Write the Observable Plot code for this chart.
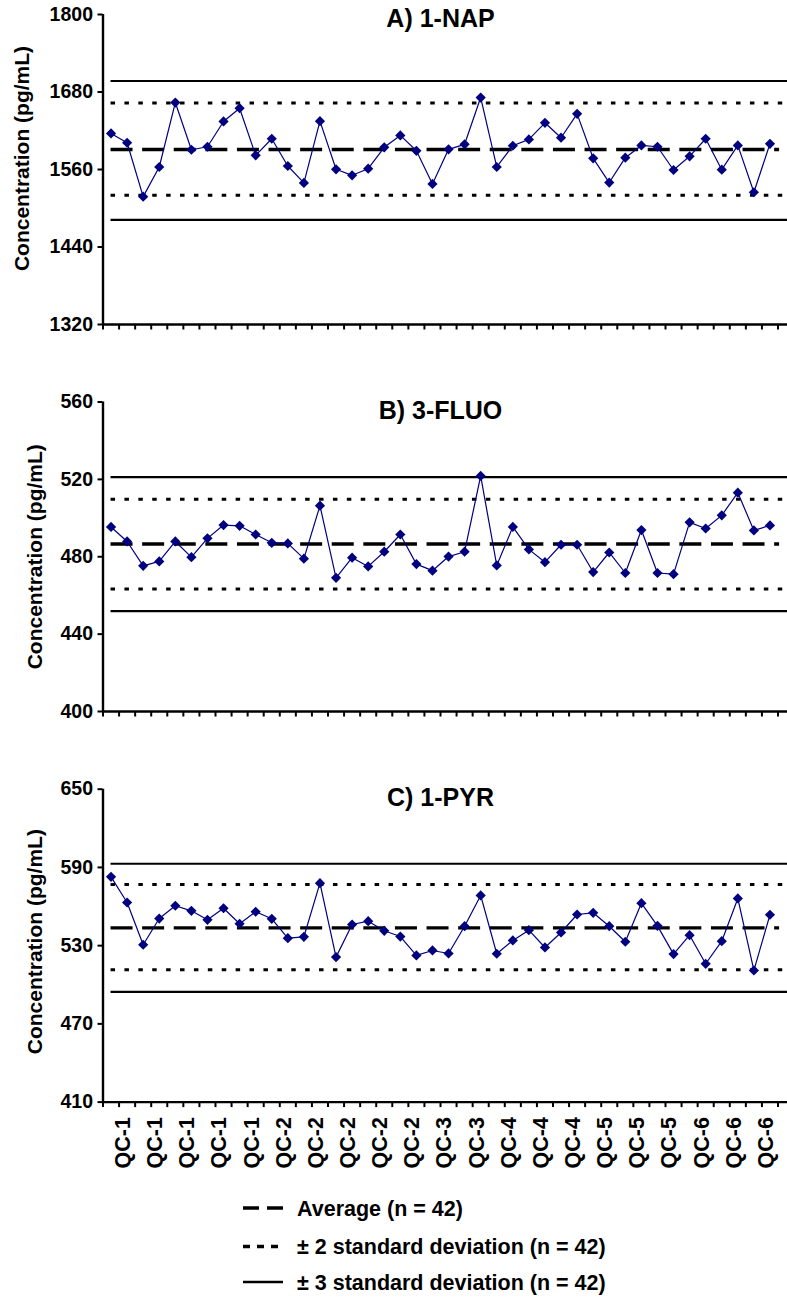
<!DOCTYPE html>
<html><head><meta charset="utf-8">
<script src="https://cdn.jsdelivr.net/npm/d3@7"></script>
<script src="https://cdn.jsdelivr.net/npm/@observablehq/plot@0.6"></script>
<style>
body{margin:0;background:#fff;}
#chart{width:787px;position:relative;}
#chart svg{display:block;}
</style></head><body><div id="chart"></div>
<script>
// ---- data ----
const runLabels = [
  "QC-1","QC-1","QC-1","QC-1","QC-1","QC-1","QC-1","QC-1","QC-1","QC-1",
  "QC-2","QC-2","QC-2","QC-2","QC-2","QC-2","QC-2","QC-2","QC-2","QC-2",
  "QC-3","QC-3","QC-3","QC-3",
  "QC-4","QC-4","QC-4","QC-4","QC-4","QC-4",
  "QC-5","QC-5","QC-5","QC-5","QC-5","QC-5",
  "QC-6","QC-6","QC-6","QC-6","QC-6","QC-6"
];
const labelEvery = 2;   // every 2nd run is labelled (runs 2, 4, ... 42)

const nap1 = [1615.8,1601.4,1518.0,1563.9,1663.7,1590.6,1595.2,1634.4,1654.9,1581.9,
  1607.6,1565.4,1539.2,1634.9,1560.3,1551.0,1561.2,1594.3,1612.8,1589.0,
  1537.6,1591.2,1599.0,1671.4,1563.9,1596.8,1606.6,1632.3,1609.2,1646.2,
  1577.3,1539.8,1578.3,1597.3,1595.2,1559.2,1580.4,1607.6,1559.7,1597.3,1524.8,1599.8];
const fluo3 = [495.4,487.9,475.3,477.6,487.9,479.8,489.5,496.4,496.0,491.5,
  487.2,486.9,479.0,506.4,469.1,479.5,475.0,482.6,491.5,476.2,
  472.8,480.1,482.6,521.8,475.5,495.4,483.8,477.2,486.2,486.2,
  472.1,482.2,471.6,493.8,471.6,471.0,497.8,494.6,501.4,513.1,493.6,496.2];
const pyr1 = [582.8,563.1,530.7,550.8,560.6,556.7,549.8,558.7,546.8,556.0,
  550.6,535.7,536.8,577.9,521.2,546.2,548.8,541.4,537.0,522.5,
  526.3,524.0,544.9,568.5,523.8,534.0,541.9,528.6,540.1,553.9,
  555.2,544.9,533.0,562.6,545.2,523.5,538.0,516.1,533.4,566.2,511.0,553.7];

const nap1Avg = 1591, nap1Sd2 = [1520, 1663], nap1Sd3 = [1482, 1697];
const fluo3Avg = 486.6, fluo3Sd2 = [463.3, 509.7], fluo3Sd3 = [451.9, 521.2];
const pyr1Avg = 543.7, pyr1Sd2 = [511.6, 576.9], pyr1Sd3 = [494.6, 592.8];

const nap1Ticks = [1320, 1440, 1560, 1680, 1800];
const fluo3Ticks = [400, 440, 480, 520, 560];
const pyr1Ticks = [410, 470, 530, 590, 650];

const panelTitles = ["A) 1-NAP", "B) 3-FLUO", "C) 1-PYR"];
const yTitle = "Concentration (pg/mL)";
const legendLabels = ["Average (n = 42)", "\u00b1 2 standard deviation (n = 42)", "\u00b1 3 standard deviation (n = 42)"];

// ---- drawing ----
const FONT = "'Liberation Sans', Arial, Helvetica, sans-serif";
const N = runLabels.length;

function panel(o) {
  const data = o.values.map((v, i) => ({i, v}));
  const ymin = o.ticks[0], ymax = o.ticks[o.ticks.length - 1];
  const xc = d => d.i + 0.5;
  const marks = [
    Plot.ruleY(o.sd3, {x1: 0.5, x2: N + 0.6, stroke: "#000", strokeWidth: 2.2}),
    Plot.ruleY(o.sd2, {x1: 0.5, x2: N + 0.3, stroke: "#000", strokeWidth: 3, strokeDasharray: "4.5 9.4"}),
    Plot.ruleY([o.avg], {x1: 0.5, x2: N + 0.1, stroke: "#000", strokeWidth: 3.3, strokeDasharray: "22 9.6"}),
    Plot.line(data, {x: xc, y: "v", stroke: "#000080", strokeWidth: 1.2}),
    Plot.dot(data, {x: xc, y: "v", symbol: "diamond2", fill: "#000080", r: 4.6}),
    Plot.axisY({ticks: o.ticks, tickSize: 5, tickPadding: 5, fontSize: 19.5, strokeWidth: 2, tickFormat: d => String(d), label: null}),
    Plot.axisX({ticks: d3.range(N + 1), tickSize: 5.5, strokeWidth: 2, tickFormat: () => "", label: null}),
    Plot.ruleX([0], {stroke: "#000", strokeWidth: 2.4}),
    Plot.ruleY([ymin], {x1: 0, x2: N + 0.6, stroke: "#000", strokeWidth: 2.4}),
    Plot.text([o.title], {frameAnchor: "top", lineAnchor: "middle", dy: o.titleDy, fontSize: 25, fontWeight: "bold"}),
    Plot.text([yTitle], {frameAnchor: "left", textAnchor: "middle", lineAnchor: "middle", rotate: -90,
      dx: o.ytDx, dy: o.ytDy, fontSize: 21, fontWeight: "bold"})
  ];
  if (o.showLabels) {
    const lt = d3.range(labelEvery - 1, N, labelEvery).map(i => i + 0.5);
    marks.push(Plot.axisX({ticks: lt, tickSize: 0, tickRotate: -90, tickPadding: 15, fontSize: 21.5, dx: -4,
      tickFormat: t => runLabels[Math.floor(t)], label: null}));
  }
  return Plot.plot({
    width: 787, height: o.height,
    marginLeft: 102.5, marginRight: 9.5, marginTop: o.mt, marginBottom: o.mb,
    x: {domain: [0, N], label: null},
    y: {domain: [ymin, ymax], label: null},
    style: {fontFamily: FONT, fontWeight: "bold", color: "#000", background: "#fff", overflow: "visible"},
    marks
  });
}

const chart = document.getElementById("chart");
chart.append(panel({title: panelTitles[0], values: nap1, avg: nap1Avg, sd2: nap1Sd2, sd3: nap1Sd3, ticks: nap1Ticks,
  height: 390, mt: 14, mb: 66, titleDy: 4, ytDx: -80.5, ytDy: -11}));
chart.append(panel({title: panelTitles[1], values: fluo3, avg: fluo3Avg, sd2: fluo3Sd2, sd3: fluo3Sd3, ticks: fluo3Ticks,
  height: 388, mt: 11.5, mb: 67, titleDy: 9, ytDx: -67.5, ytDy: 0}));
chart.append(panel({title: panelTitles[2], values: pyr1, avg: pyr1Avg, sd2: pyr1Sd2, sd3: pyr1Sd3, ticks: pyr1Ticks,
  height: 418, mt: 10.7, mb: 94.4, titleDy: 8.5, ytDx: -67.5, ytDy: -4, showLabels: true}));

// legend
const leg = d3.create("svg").attr("width", 787).attr("height", 101)
  .style("display", "block").style("font-family", FONT).style("font-weight", "bold");
const rows = [
  {y: 12, dash: "16 8", w: 3.5},
  {y: 50.5, dash: "7 7", w: 3.5},
  {y: 86, dash: null, w: 2.4}
];
rows.forEach((r, k) => {
  const ln = leg.append("line").attr("x1", 243).attr("x2", 283).attr("y1", r.y).attr("y2", r.y)
    .attr("stroke", "#000").attr("stroke-width", r.w);
  if (r.dash) ln.attr("stroke-dasharray", r.dash);
  leg.append("text").attr("x", 297).attr("y", r.y).attr("dy", "0.35em")
    .attr("font-size", 21.5).text(legendLabels[k]);
});
chart.append(leg.node());
</script>
</body></html>
